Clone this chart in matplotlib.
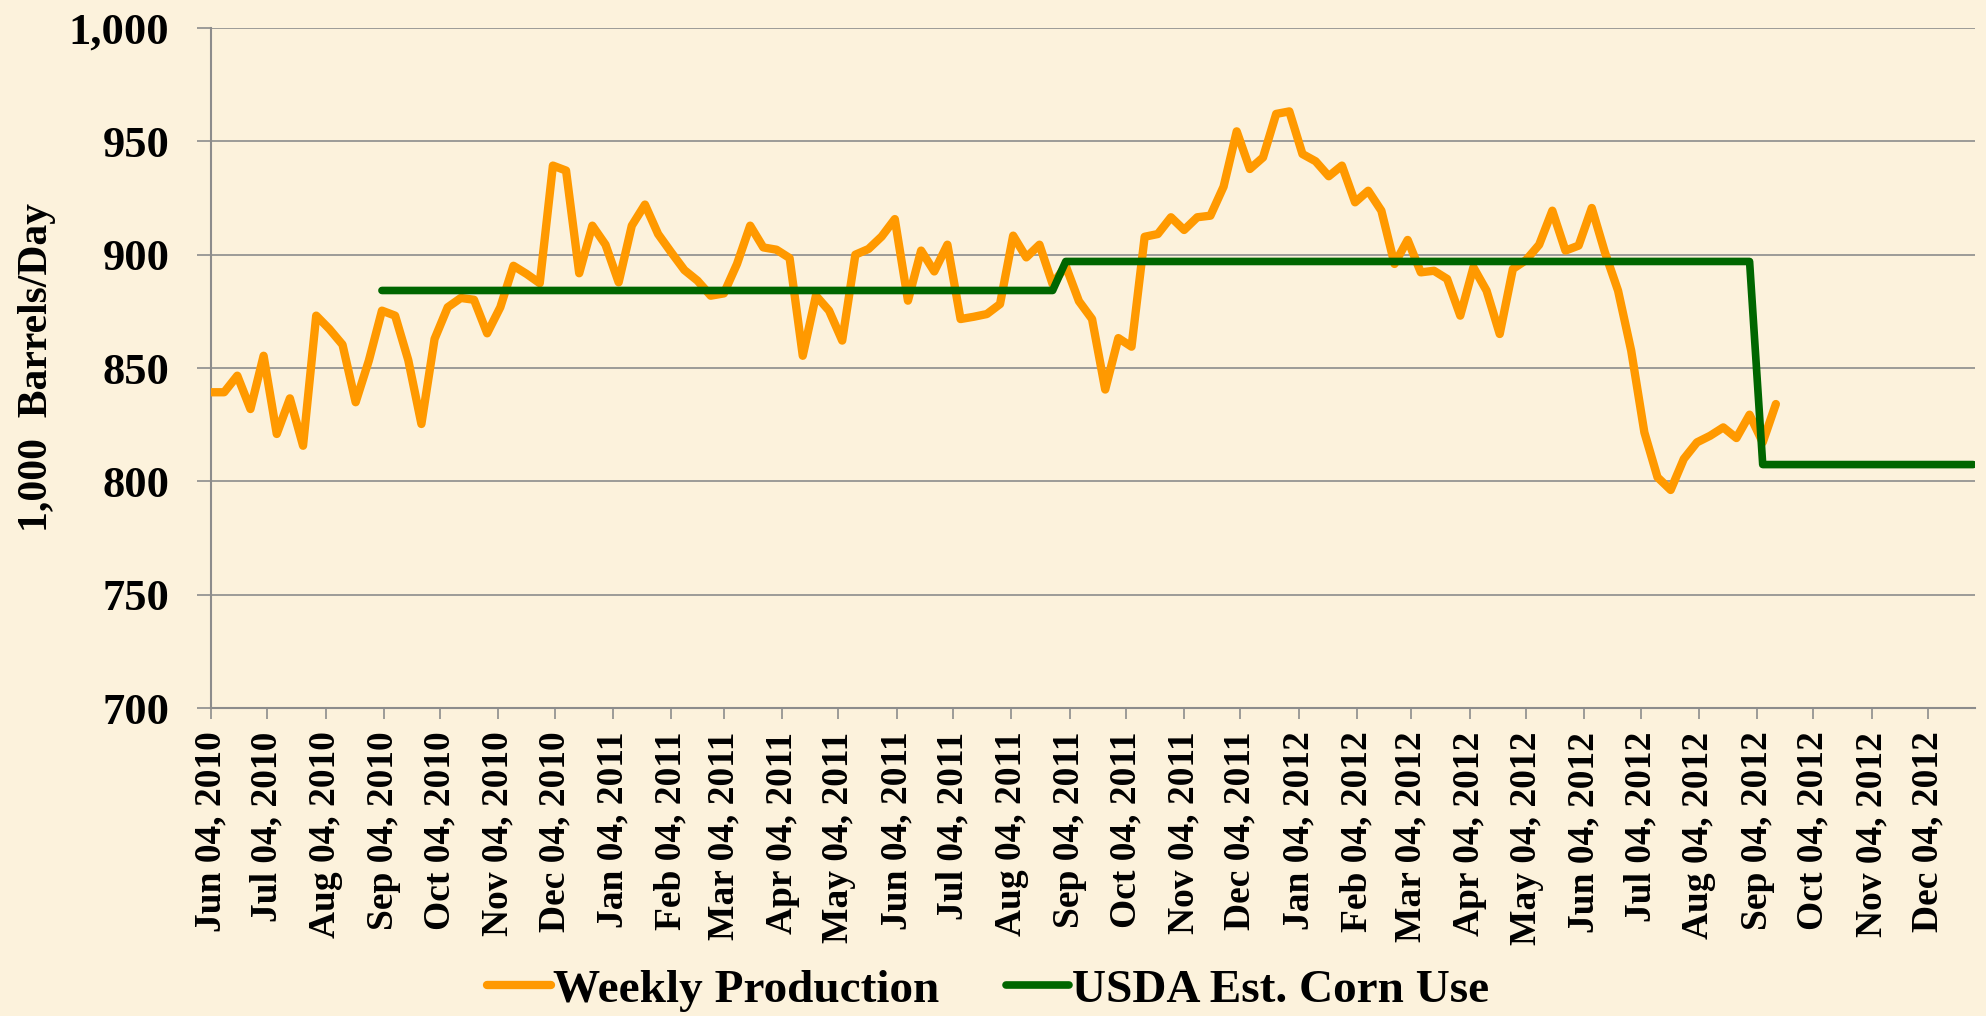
import matplotlib
matplotlib.use("Agg")
import matplotlib.pyplot as plt
import matplotlib.dates as mdates
import pandas as pd

# weekly ethanol production, 1,000 barrels/day (Fridays from Jun 04, 2010)
prod_start = "2010-06-04"
weekly_production = [
    839.3, 839.3, 846.6, 831.9, 855.4, 820.9, 836.6, 815.7, 873.1, 867.2,
    860.3, 834.9, 853.2, 875.3, 873.1, 853.5, 825.3, 862.8, 876.8, 880.9,
    880.1, 865.3, 876.8, 895.1, 891.5, 887.4, 939.3, 937.1, 891.8, 912.8,
    904.4, 887.8, 912.8, 922.1, 909.1, 901.0, 893.2, 888.5, 881.9, 882.9,
    895.9, 912.8, 903.2, 902.2, 898.5, 855.4, 881.9, 875.3, 862.1, 900.0,
    902.5, 908.0, 915.7, 879.7, 901.8, 892.6, 904.4, 871.6, 872.6, 873.8,
    878.2, 908.4, 898.8, 904.4, 887.0, 895.0, 879.5, 871.6, 840.5, 863.2,
    859.4, 907.9, 909.1, 916.5, 910.9, 916.5, 917.2, 930.0, 954.4, 937.8,
    942.9, 962.1, 963.2, 944.4, 941.2, 934.6, 939.3, 923.1, 928.2, 919.4,
    895.9, 906.5, 892.2, 892.9, 889.3, 873.1, 894.4, 884.1, 865.0, 893.7,
    897.6, 904.4, 919.4, 901.8, 904.0, 920.6, 901.0, 884.1, 857.6, 821.6,
    801.8, 796.2, 809.9, 817.2, 820.1, 823.8, 819.1, 829.4, 817.2, 834.1,
]

# USDA estimated corn use, expressed in the same units
usda_dates = ["2010-09-03", "2011-08-26", "2011-09-02",
              "2012-08-31", "2012-09-07", "2012-12-28"]
usda_values = [884.2, 884.2, 897.0, 897.0, 807.4, 807.4]

y_ticks = [700, 750, 800, 850, 900, 950, 1000]

bg = "#FCF2DC"
grid_gray = "#8C8C8C"

plt.rcParams["font.family"] = ["Liberation Serif", "DejaVu Serif"]
plt.rcParams["font.weight"] = "bold"

fig = plt.figure(figsize=(19.86, 10.16), dpi=100, facecolor=bg)
ax = fig.add_axes([211 / 1986, 1 - 708 / 1016, 1764 / 1986, 680 / 1016])
ax.set_facecolor(bg)

prod_dates = pd.date_range(prod_start, periods=len(weekly_production), freq="7D")
ax.plot(prod_dates, weekly_production, color="#FF9900", lw=6,
        solid_joinstyle="round", solid_capstyle="round",
        label="Weekly Production", zorder=3)
ax.plot(pd.to_datetime(usda_dates), usda_values, color="#006600", lw=5.5,
        solid_joinstyle="round", solid_capstyle="round",
        label="USDA Est. Corn Use", zorder=4)

ax.set_ylim(700, 1000)
ax.set_yticks(y_ticks)
ax.set_yticklabels([f"{v:,}" for v in y_ticks])
ax.set_xlim(pd.Timestamp("2010-06-04"), pd.Timestamp("2012-12-29"))

ax.xaxis.set_major_locator(mdates.MonthLocator(bymonthday=4))
ax.xaxis.set_major_formatter(mdates.DateFormatter("%b %d, %Y"))
for lbl in ax.get_xticklabels():
    lbl.set_rotation(90)

ax.grid(axis="y", color=grid_gray, lw=1.2, zorder=1)
ax.set_axisbelow(True)
for side in ["top", "right"]:
    ax.spines[side].set_visible(False)
for side in ["left", "bottom"]:
    ax.spines[side].set_color(grid_gray)
    ax.spines[side].set_linewidth(1.5)

ax.tick_params(axis="y", colors=grid_gray, labelcolor="black",
               length=10, width=1.2, pad=20, labelsize=32)
ax.tick_params(axis="x", colors=grid_gray, labelcolor="black",
               length=8, width=1.2, pad=9, labelsize=27)

ax.set_ylabel("1,000  Barrels/Day", fontsize=30, fontweight="bold")
ax.yaxis.set_label_coords(-0.088, 0.5)

fig.legend(loc="center", bbox_to_anchor=(988 / 1986, 1 - 990 / 1016),
           ncol=2, frameon=False, fontsize=34, handlelength=1.35,
           handletextpad=0.05, columnspacing=1.4)

fig.savefig("out.png", dpi=100, facecolor=bg)
